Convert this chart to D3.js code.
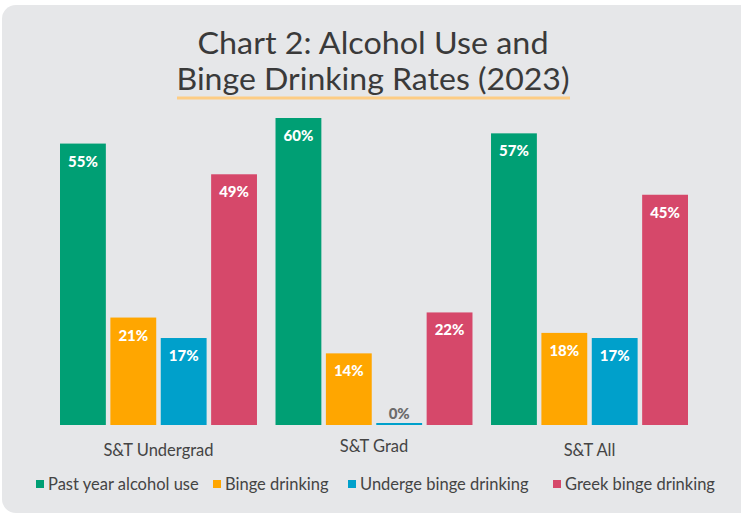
<!DOCTYPE html>
<html>
<head>
<meta charset="utf-8">
<script src="https://cdn.jsdelivr.net/npm/d3@7"></script>
<style>
  html, body { margin: 0; padding: 0; background: #fff; }
  #chart { width: 741px; height: 515px; }
  text { font-family: Lato, "Open Sans", sans-serif; }
</style>
</head>
<body>
<div id="chart"></div>
<script>
// ── Data ───────────────────────────────────────────────────────────────────
const groups = ["S&T Undergrad", "S&T Grad", "S&T All"];
const seriesNames = [
  "Past year alcohol use",
  "Binge drinking",
  "Underge binge drinking",
  "Greek binge drinking",
];
const pastYear = [55, 60, 57];
const binge = [21, 14, 18];
const underage = [17, 0, 17];
const greek = [49, 22, 45];
const seriesColors = ["#009f74", "#ffa600", "#00a0cb", "#d6486a"];

const values = [pastYear, binge, underage, greek];

function renderChart(selector) {
  const container = d3.select(selector);
  container.selectAll("*").remove();

  const W = 741, H = 515;
  const svg = container.append("svg").attr("width", W).attr("height", H);

  // ── Panel ────────────────────────────────────────────────────────────────
  svg.append("rect")
    .attr("x", 2).attr("y", 5)
    .attr("width", W + 20).attr("height", H - 7)
    .attr("rx", 14)
    .attr("fill", "#e6e7e9");

  // ── Title ────────────────────────────────────────────────────────────────
  const title = svg.append("text")
    .attr("text-anchor", "middle")
    .attr("fill", "#3a3a3a")
    .style("font-size", "31px");
  title.append("tspan").attr("x", 373).attr("y", 54)
    .attr("textLength", 351).attr("lengthAdjust", "spacingAndGlyphs")
    .text("Chart 2: Alcohol Use and");
  title.append("tspan").attr("x", 373).attr("y", 90)
    .attr("textLength", 393).attr("lengthAdjust", "spacingAndGlyphs")
    .text("Binge Drinking Rates (2023)");

  svg.append("line")
    .attr("x1", 177).attr("x2", 570)
    .attr("y1", 98).attr("y2", 98)
    .attr("stroke", "#fdcd85")
    .attr("stroke-width", 3);

  // ── Scales ───────────────────────────────────────────────────────────────
  const baseline = 425;
  const x0 = d3.scaleBand().domain(groups).range([60, 688]).paddingInner(0.086);
  const x1 = d3.scaleBand().domain(d3.range(seriesNames.length))
    .range([0, x0.bandwidth()]).paddingInner(0.09);
  const y = d3.scaleLinear().domain([0, 60]).range([baseline, baseline - 307]);

  const rows = [];
  values.forEach((arr, s) => {
    arr.forEach((v, g) => rows.push({ group: groups[g], s, v }));
  });

  const g = svg.append("g");

  g.selectAll(".bar")
    .data(rows)
    .join("rect")
    .attr("class", "bar")
    .attr("x", (d) => x0(d.group) + x1(d.s))
    .attr("width", x1.bandwidth())
    .attr("y", (d) => (d.v === 0 ? baseline - 2 : y(d.v)))
    .attr("height", (d) => (d.v === 0 ? 2 : baseline - y(d.v)))
    .attr("fill", (d) => seriesColors[d.s]);

  g.selectAll(".val")
    .data(rows)
    .join("text")
    .attr("class", "val")
    .attr("text-anchor", "middle")
    .attr("x", (d) => x0(d.group) + x1(d.s) + x1.bandwidth() / 2)
    .attr("y", (d) => (d.v === 0 ? baseline - 6 : y(d.v) + 23))
    .attr("fill", (d) => (d.v === 0 ? "#6b6b6b" : "#ffffff"))
    .style("font-size", "15px")
    .style("font-weight", "900")
    .text((d) => `${d.v}%`);

  // ── Category labels ──────────────────────────────────────────────────────
  const catY = [456, 452, 456];
  g.selectAll(".cat")
    .data(groups)
    .join("text")
    .attr("class", "cat")
    .attr("text-anchor", "middle")
    .attr("x", (d) => x0(d) + x0.bandwidth() / 2)
    .attr("y", (d, i) => catY[i])
    .attr("fill", "#444")
    .style("font-size", "16.5px")
    .text((d) => d);

  // ── Legend ───────────────────────────────────────────────────────────────
  const legendX = [36, 213, 348, 553];
  const legend = svg.append("g").attr("transform", "translate(0,485)");
  seriesNames.forEach((name, i) => {
    const item = legend.append("g").attr("transform", `translate(${legendX[i]},0)`);
    item.append("rect")
      .attr("x", 0).attr("y", -5)
      .attr("width", 8).attr("height", 8)
      .attr("fill", seriesColors[i]);
    item.append("text")
      .attr("x", 12).attr("y", 5)
      .attr("fill", "#444")
      .style("font-size", "16.5px")
      .text(name);
  });
}

renderChart("#chart");
</script>
</body>
</html>
